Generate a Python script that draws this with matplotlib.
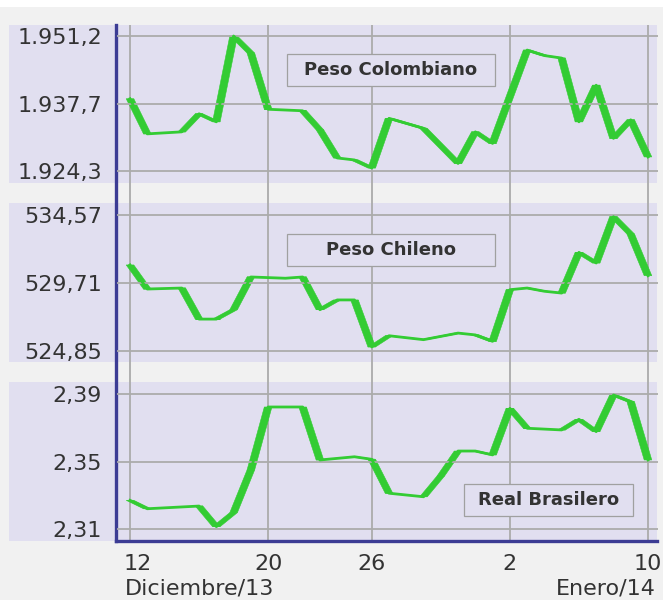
import numpy as np
import matplotlib
matplotlib.use("Agg")
import matplotlib.pyplot as plt
from matplotlib.patches import Rectangle, Polygon

# day index (0 = 12 dic) and values
col_x = [0, 1, 3, 4, 5, 6, 7, 8, 10, 11, 12, 13, 14, 15, 17, 19, 20, 21, 23, 24, 25, 26, 27, 28, 29, 30]
col_y = [1938.7, 1931.7, 1932.1, 1935.7, 1934.1, 1951.2, 1947.8, 1936.6, 1936.3, 1932.5, 1926.9, 1926.5,
         1924.9, 1934.8, 1932.8, 1925.8, 1932.1, 1929.8, 1948.4, 1947.3, 1946.8, 1934.1, 1941.4, 1930.8,
         1934.5, 1927.1]

chi_x = [0, 1, 3, 4, 5, 6, 7, 9, 10, 11, 12, 13, 14, 15, 17, 19, 20, 21, 22, 23, 24, 25, 26, 27, 28, 29, 30]
chi_y = [531.0, 529.28, 529.35, 527.13, 527.13, 527.8, 530.14, 530.05, 530.14, 527.8, 528.5, 528.5, 525.14,
         525.94, 525.66, 526.13, 526.0, 525.54, 529.23, 529.35, 529.12, 528.99, 531.9, 531.14, 534.45,
         533.21, 530.23]

bra_x = [0, 1, 4, 5, 6, 7, 8, 10, 11, 13, 14, 15, 17, 18, 19, 20, 21, 22, 23, 25, 26, 27, 28, 29, 30]
bra_y = [2.327, 2.322, 2.3236, 2.3114, 2.3197, 2.345, 2.3823, 2.3823, 2.3509, 2.3528, 2.3513, 2.3312,
         2.3291, 2.3414, 2.3562, 2.3562, 2.3539, 2.3815, 2.3697, 2.3687, 2.375, 2.3677, 2.3894, 2.3854,
         2.3509]

tick_pos = [0, 8, 14, 22, 30]
tick_labels = ["12", "20", "26", "2", "10"]

col_ticks = [1924.3, 1937.75, 1951.2]
col_tlabels = ["1.924,3", "1.937,7", "1.951,2"]
chi_ticks = [524.85, 529.71, 534.57]
chi_tlabels = ["524,85", "529,71", "534,57"]
bra_ticks = [2.31, 2.35, 2.39]
bra_tlabels = ["2,31", "2,35", "2,39"]

GREEN = "#33cc33"
LAV = "#e1dff0"
GRID = "#ababab"
BLUE = "#3c3c94"
TXT = "#333333"

W, H = 663, 600
PX_PER_DAY = (648 - 130) / 30


def fx(px):
    return px / W


def fy(py):
    return 1 - py / H


def xdata(px):
    # pixel -> day index (12 dic at x=130, 10 ene at x=648)
    return (px - 130) / PX_PER_DAY


fig = plt.figure(figsize=(6.63, 6.0), dpi=100, facecolor="#f1f1f1")
fig.patches.append(Rectangle((0, fy(7)), 1, 1 - fy(7), transform=fig.transFigure,
                             facecolor="white", edgecolor="none", zorder=-6))

panels = [(25, 183), (203, 362), (382, 541)]
for top, bot in panels:
    fig.patches.append(Rectangle((fx(9), fy(bot)), fx(657) - fx(9), (bot - top) / H,
                                 transform=fig.transFigure, facecolor=LAV, edgecolor="none", zorder=-5))

# background axes: vertical grid, blue axis lines, x labels
bg = fig.add_axes([fx(115.5), fy(541), fx(657) - fx(115.5), (541 - 25) / H])
bg.set_facecolor("none")
bg.set_xlim(xdata(115.5), xdata(657))
bg.set_ylim(0, 1)
bg.set_yticks([])
bg.set_xticks(tick_pos, [""] + tick_labels[1:])
bg.grid(axis="x", color=GRID, lw=1.3)
for s in ["top", "right"]:
    bg.spines[s].set_visible(False)
for s in ["left", "bottom"]:
    bg.spines[s].set_color(BLUE)
    bg.spines[s].set_linewidth(2.4)
bg.tick_params(axis="x", length=0, pad=9.5, labelsize=16, labelcolor=TXT)
fig.text(fx(138), fy(554.2), tick_labels[0], ha="center", va="top", fontsize=16, color=TXT)
fig.text(fx(125), fy(579), "Diciembre/13", ha="left", va="top", fontsize=16, color=TXT)
fig.text(fx(656), fy(579), "Enero/14", ha="right", va="top", fontsize=16, color=TXT)

series = [
    (col_x, col_y, col_ticks, col_tlabels, (1951.2, 36, 1924.3, 171)),
    (chi_x, chi_y, chi_ticks, chi_tlabels, (534.57, 215, 524.85, 351)),
    (bra_x, bra_y, bra_ticks, bra_tlabels, (2.39, 394, 2.31, 529)),
]

nib = 3.8 / PX_PER_DAY  # half width of the flat pen, in days

for (top, bot), (xs, ys, yt, ytl, (v1, p1, v2, p2)) in zip(panels, series):
    ax = fig.add_axes([fx(117), fy(bot), fx(658) - fx(117), (bot - top) / H])
    ax.set_facecolor("none")
    ax.set_xlim(xdata(117), xdata(658))
    k = (v1 - v2) / (p2 - p1)
    ax.set_ylim(v2 - (bot - p2) * k, v1 + (p1 - top) * k)
    ax.set_xticks([])
    ax.set_yticks(yt, ytl)
    ax.grid(axis="y", color=GRID, lw=1.3)
    for s in ax.spines.values():
        s.set_visible(False)
    ax.tick_params(axis="y", length=0, pad=10.8, labelsize=16, labelcolor=TXT)
    # calligraphic stroke: each segment swept by a horizontal nib
    for i in range(len(xs) - 1):
        pts = [(xs[i] - nib, ys[i]), (xs[i + 1] - nib, ys[i + 1]),
               (xs[i + 1] + nib, ys[i + 1]), (xs[i] + nib, ys[i])]
        ax.add_patch(Polygon(pts, closed=True, facecolor=GREEN, edgecolor=GREEN,
                             lw=0.4, clip_on=False))
    ax.plot(xs, ys, color=GREEN, lw=2.0, solid_joinstyle="round", clip_on=False)

boxes = [
    ("Peso Colombiano", 287, 495, 54, 86),
    ("Peso Chileno", 287, 495, 234, 266),
    ("Real Brasilero", 464, 633, 484, 516),
]
for name, x0, x1, y0, y1 in boxes:
    fig.patches.append(Rectangle((fx(x0), fy(y1)), fx(x1) - fx(x0), (y1 - y0) / H,
                                 transform=fig.transFigure, facecolor=LAV, edgecolor="#a0a0a0",
                                 lw=0.9, zorder=5))
    fig.text(fx((x0 + x1) / 2), fy((y0 + y1) / 2), name, ha="center", va="center",
             fontsize=13, fontweight="bold", color=TXT, zorder=6)

fig.savefig("out.png", dpi=100, facecolor=fig.get_facecolor())
